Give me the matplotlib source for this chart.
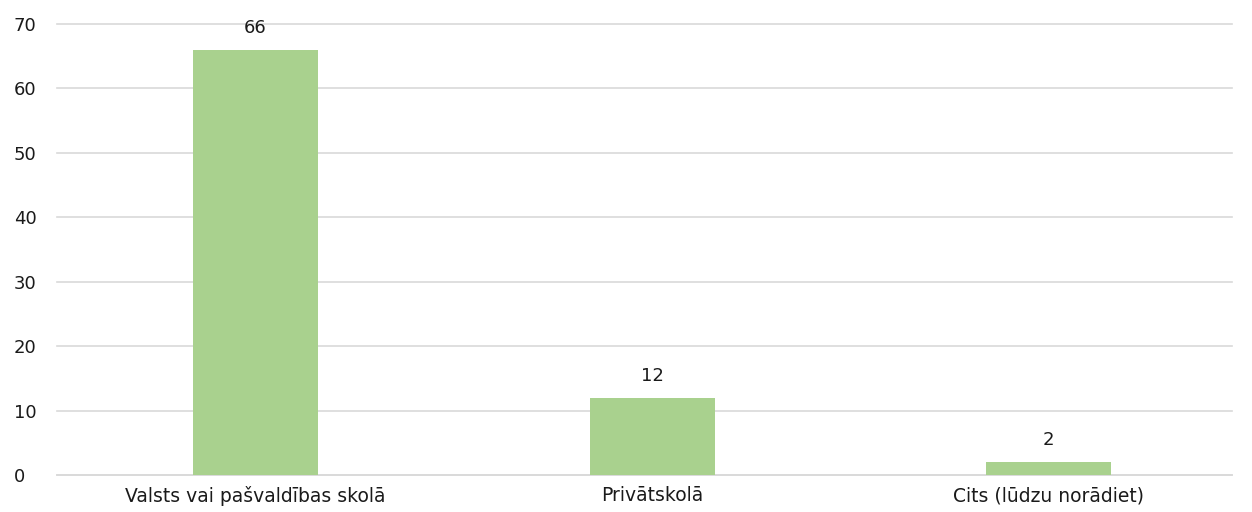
import matplotlib.pyplot as plt

categories = ["Valsts vai pašvaldības skolā", "Privātskolā", "Cits (lūdzu norādiet)"]
values = [66, 12, 2]
y_ticks = [0, 10, 20, 30, 40, 50, 60, 70]

plt.rcParams["font.family"] = ["DejaVu Sans"]

fig = plt.figure(figsize=(12.52, 5.12), dpi=100)
ax = fig.add_axes([57 / 1252, 37 / 512, (1232 - 57) / 1252, (475 - 24) / 512])

x = range(len(categories))
bars = ax.bar(x, values, width=0.315, color="#A9D18E", zorder=3)
for b, v in zip(bars, values):
    ax.text(b.get_x() + b.get_width() / 2, v + 2.0, str(v), ha="center", va="bottom",
            fontsize=13, color="#1a1a1a")

ax.set_xlim(-0.5, 2.462)
ax.set_ylim(0, 70)
ax.set_yticks(y_ticks)
ax.set_xticks(list(x))
ax.set_xticklabels(categories, fontsize=13.5, color="#1a1a1a")
ax.tick_params(axis="y", labelsize=13, labelcolor="#1a1a1a", length=0, pad=31)
ax.tick_params(axis="x", length=0, pad=8)
ax.grid(axis="y", color="#D9D9D9", linewidth=1.2, zorder=0)
for gl in ax.get_ygridlines():
    gl.set_clip_on(False)
for s in ["top", "right", "left"]:
    ax.spines[s].set_visible(False)
ax.spines["bottom"].set_color("#D9D9D9")
ax.spines["bottom"].set_linewidth(1.2)
for lbl in ax.get_yticklabels():
    lbl.set_horizontalalignment("left")

fig.savefig("out.png", dpi=100)
